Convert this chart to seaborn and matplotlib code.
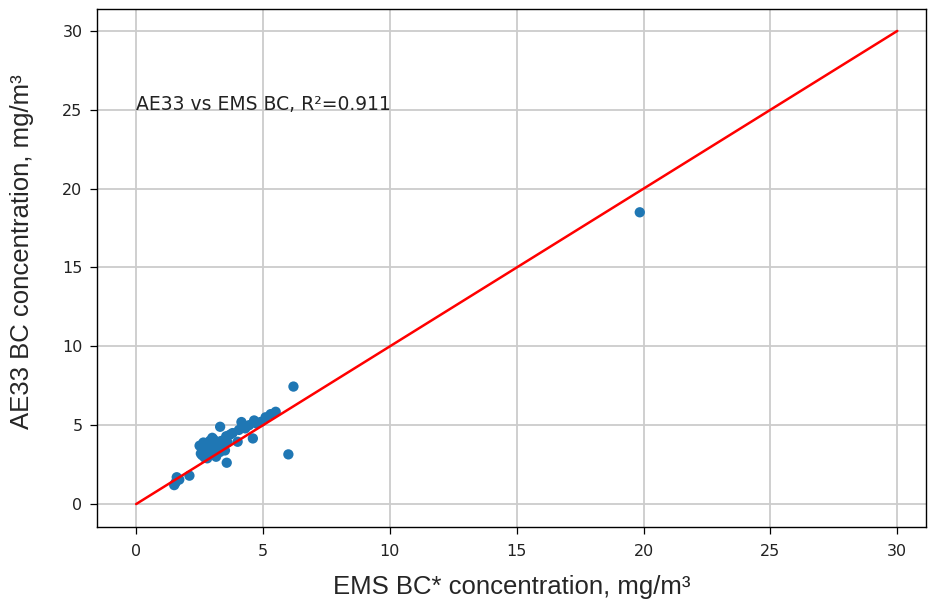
import numpy as np
import pandas as pd
import matplotlib.pyplot as plt
import seaborn as sns

# EMS BC* vs AE33 BC (mg/m3)
ems_bc = [1.5, 1.55, 1.6, 1.7, 2.1,
          2.5, 2.55, 2.6, 2.65, 2.7, 2.75, 2.8, 2.85, 2.9, 2.95, 3.0,
          3.05, 3.1, 3.15, 3.2, 3.25, 3.3, 2.6, 2.7, 2.9, 3.0, 3.1,
          3.35, 3.4, 3.5, 3.55, 3.6, 3.7, 3.8, 4.0, 4.05, 4.15, 4.3,
          4.45, 4.6, 4.65, 4.75, 4.9, 5.1, 5.3, 5.5, 3.31, 3.57,
          6.0, 6.2, 19.85]
ae33_bc = [1.2, 1.35, 1.7, 1.55, 1.8,
           3.7, 3.2, 3.5, 3.9, 3.4, 3.6, 2.9, 3.3, 4.0, 3.7, 3.2,
           4.1, 3.6, 3.0, 3.9, 3.5, 3.3, 3.1, 2.95, 3.8, 4.2, 3.4,
           4.0, 3.7, 3.4, 4.3, 3.9, 4.4, 4.5, 3.95, 4.7, 5.2, 4.8,
           5.0, 4.16, 5.3, 5.1, 5.2, 5.5, 5.7, 5.85, 4.9, 2.62,
           3.15, 7.45, 18.5]

df = pd.DataFrame({"ems": ems_bc, "ae33": ae33_bc})

sns.set_style("white")
fig, ax = plt.subplots(figsize=(9.29, 6.01), dpi=100)

sns.scatterplot(data=df, x="ems", y="ae33", ax=ax, color="#1f77b4",
                s=55, edgecolor="none", zorder=3)
ax.plot([0, 30], [0, 30], color="red", lw=1.8, zorder=4)

ax.grid(True, color="#cccccc", lw=1.3)
ax.set_axisbelow(True)
for sp in ax.spines.values():
    sp.set_visible(True)
    sp.set_color("black")
    sp.set_linewidth(1.0)

ax.set_xlim(-1.54, 31.14)
ax.set_ylim(-1.46, 31.39)
ax.set_xticks(range(0, 31, 5))
ax.set_yticks(range(0, 31, 5))
ax.tick_params(direction="out", length=5, width=0.9, labelsize=11.5,
               left=True, bottom=True, colors="black", labelcolor="#222222")
ax.tick_params(axis="x", pad=7)
ax.tick_params(axis="y", pad=5.5)

ax.text(0, 25, "AE33 vs EMS BC, R²=0.911", fontsize=13.5, va="baseline", color="#222222")
ax.set_xlabel("EMS BC* concentration, mg/m³", fontsize=18.5, family="Liberation Sans", labelpad=12)
ax.set_ylabel("AE33 BC concentration, mg/m³", fontsize=18.5, family="Liberation Sans")
ax.yaxis.set_label_coords(-0.076, 0.531)

plt.subplots_adjust(left=0.1045, right=0.997, top=0.985, bottom=0.123)
plt.savefig("out.png", dpi=100)
